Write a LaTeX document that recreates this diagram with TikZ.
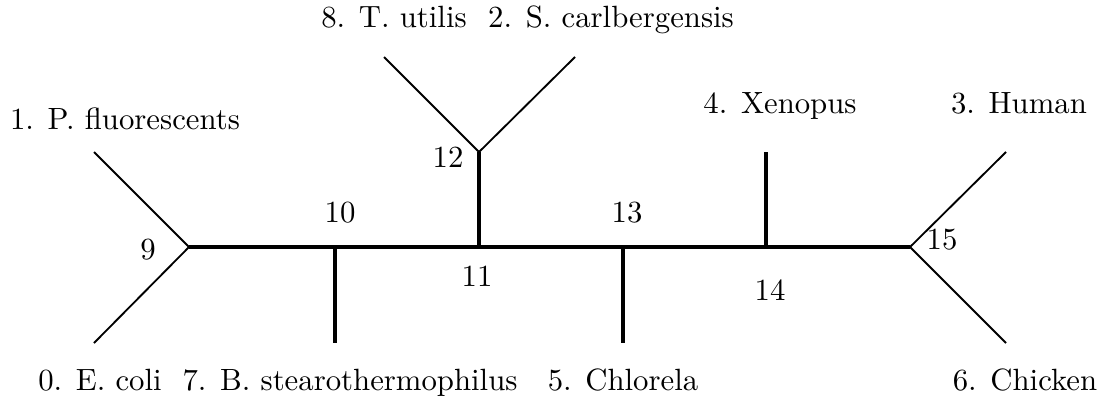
\documentclass[tikz,border=0pt]{standalone}
\begin{document}
\begin{tikzpicture}[x=0.01143cm,y=-0.01143cm,
  trunk/.style={line width=1.3pt},
  twig/.style={line width=0.6pt},
  leaf/.style={inner sep=0pt,anchor=base},
  vnum/.style={inner sep=0pt}]
  \useasboundingbox (0,0) rectangle (1108,398);
  % inner vertices
  \coordinate (n9) at (189,247);
  \coordinate (n10) at (335,247);
  \coordinate (n11) at (479,247);
  \coordinate (n12) at (479,152);
  \coordinate (n13) at (623,247);
  \coordinate (n14) at (766,247);
  \coordinate (n15) at (910,247);
  % leaf ends
  \coordinate (e0) at (94,343);
  \coordinate (e1) at (94,152);
  \coordinate (e2) at (575,57);
  \coordinate (e3) at (1006,152);
  \coordinate (e4) at (766,152);
  \coordinate (e5) at (623,343);
  \coordinate (e6) at (1006,343);
  \coordinate (e7) at (335,343);
  \coordinate (e8) at (384,57);
  % edges
  \draw[trunk] (n9) -- (n10) -- (n11) -- (n13) -- (n14) -- (n15);
  \draw[trunk] (n10) -- (e7);
  \draw[trunk] (n11) -- (n12);
  \draw[trunk] (n13) -- (e5);
  \draw[trunk] (n14) -- (e4);
  \draw[twig] (e1) -- (n9) -- (e0);
  \draw[twig] (e8) -- (n12) -- (e2);
  \draw[twig] (e3) -- (n15) -- (e6);
  % leaf names
  \node[leaf] (l1) at (125,129) {1. P. fluorescents};
  \node[leaf] (l8) at (394,27) {8. T. utilis};
  \node[leaf] (l2) at (611,27) {2. S. carlbergensis};
  \node[leaf] (l4) at (780,113) {4. Xenopus};
  \node[leaf] (l3) at (1019,113) {3. Human};
  \node[leaf] (l0) at (100,390) {0. E. coli};
  \node[leaf] (l7) at (350,390) {7. B. stearothermophilus};
  \node[leaf] (l5) at (623,390) {5. Chlorela};
  \node[leaf] (l6) at (1025,390) {6. Chicken};
  % vertex numbers
  \node[vnum] (v9) at (148,250) {9};
  \node[vnum] (v10) at (340,213) {10};
  \node[vnum] (v11) at (477,276) {11};
  \node[vnum] (v12) at (448,157) {12};
  \node[vnum] (v13) at (627,213) {13};
  \node[vnum] (v14) at (770,290) {14};
  \node[vnum] (v15) at (942,240) {15};
\end{tikzpicture}
\end{document}
